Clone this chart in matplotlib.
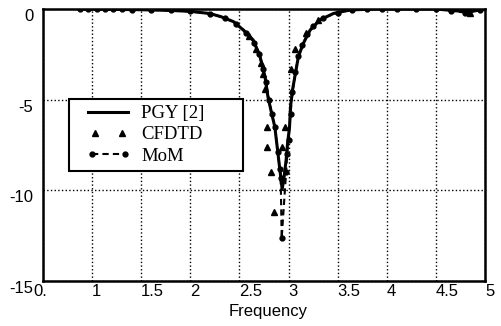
import matplotlib
matplotlib.use("Agg")
import matplotlib.pyplot as plt
from matplotlib.transforms import ScaledTranslation
from matplotlib.legend_handler import HandlerLine2D

# ---- data ----
pgy_x = [0.9, 1.2, 1.5, 1.8, 2.0, 2.2, 2.31, 2.44, 2.54, 2.64, 2.71, 2.76, 2.79, 2.82,
         2.86, 2.88, 2.90, 2.92, 2.935, 2.955, 2.975, 2.99, 3.01, 3.02, 3.04, 3.07,
         3.10, 3.15, 3.22, 3.32, 3.46, 3.63, 3.9, 4.2, 4.5, 4.7, 4.85, 5.0]
pgy_y = [0, -0.02, -0.04, -0.08, -0.13, -0.25, -0.42, -0.7, -1.16, -1.71, -2.63, -3.73,
         -4.84, -5.57, -6.5, -7.41, -8.33, -9.25, -9.95, -9.25, -8.33, -7.41, -6.5,
         -5.39, -4.47, -3.55, -2.63, -1.9, -1.16, -0.6, -0.24, -0.05, 0, 0, 0, -0.1,
         -0.15, 0]

cf_x = [2.6, 2.67, 2.72, 2.74, 2.76, 2.78, 2.78, 2.82, 2.85, 2.93, 2.96, 3.02, 3.07,
        3.18, 3.3, 4.85]
cf_y = [-1.5, -2.2, -3.0, -3.6, -4.4, -6.5, -7.6, -9.0, -11.2, -7.6, -6.5, -3.3, -2.2,
        -1.3, -0.6, -0.2]

mom_x = [0.88, 0.96, 1.05, 1.13, 1.21, 1.30, 1.41, 1.6, 1.8, 2.0, 2.2, 2.35, 2.47, 2.57,
         2.65, 2.7, 2.74, 2.77, 2.8, 2.83, 2.86, 2.89, 2.91, 2.92, 2.93, 2.975, 2.985,
         3.0, 3.02, 3.04, 3.07, 3.1, 3.14, 3.19, 3.25, 3.35, 3.5, 3.65, 3.8, 3.95,
         4.1, 4.3, 4.5, 4.65, 4.8, 4.95]
mom_y = [0, 0, 0, -0.01, -0.02, -0.02, -0.03, -0.05, -0.08, -0.13, -0.25, -0.5, -0.8,
         -1.3, -1.85, -2.5, -3.3, -4.0, -5.0, -5.8, -6.5, -7.87, -8.8, -9.3, -12.65,
         -9.0, -8.0, -7.2, -5.8, -4.6, -3.5, -2.6, -2.0, -1.4, -0.95, -0.5, -0.2,
         -0.05, 0, 0, 0, 0, 0, -0.1, -0.2, -0.05]

xticks = [0.5, 1, 1.5, 2, 2.5, 3, 3.5, 4, 4.5, 5]
xticklabels = ["0.", "1", "1.5", "2", "2.5", "3", "3.5", "4", "4.5", "5"]
yticks = [0, -5, -10, -15]
yticklabels = ["0", "-5", "-10", "-15"]

fig = plt.figure(figsize=(5.02, 3.26), dpi=100)
ax = fig.add_axes([43/502, 1-281/326, (485-43)/502, (281-9)/326])

l_pgy, = ax.plot(pgy_x, pgy_y, '-', color='black', lw=2.2, label='PGY [2]', zorder=3)
l_cf, = ax.plot(cf_x, cf_y, '^', color='black', ms=4.5, ls='none', label='CFDTD', zorder=4)
l_mom, = ax.plot(mom_x, mom_y, '--', color='black', lw=1.5, marker='o', ms=3.5,
                 dashes=(3, 2), label='MoM', zorder=3)

ax.set_xlim(0.5, 5)
ax.set_ylim(-15, 0)
ax.set_xticks(xticks)
ax.set_xticklabels(xticklabels, fontsize=12, family='Liberation Sans')
ax.set_yticks(yticks)
ax.set_yticklabels(yticklabels, fontsize=12, family='Liberation Sans')
ax.tick_params(length=0)
ax.tick_params(axis='x', pad=2)
ax.tick_params(axis='y', pad=7)
for lab in ax.get_xticklabels():
    lab.set_horizontalalignment('left')
first = ax.get_xticklabels()[0]
first.set_transform(first.get_transform() + ScaledTranslation(-10/100, 0, fig.dpi_scale_trans))
for lab in ax.get_yticklabels():
    lab.set_verticalalignment('top')

ax.grid(True, color='black', ls=':', lw=1.0)
for s in ax.spines.values():
    s.set_linewidth(1.8)
    s.set_color('black')

ax.set_xlabel('Frequency', fontsize=12, family='Liberation Sans', labelpad=0)
ax.xaxis.set_label_coords(0.51, -0.085)

hmap = {
    l_pgy: HandlerLine2D(xpad=0.72, marker_pad=0.0),
    l_cf: HandlerLine2D(xpad=0.72, marker_pad=0.35),
    l_mom: HandlerLine2D(xpad=0.72, marker_pad=0.2),
}
leg = ax.legend(handles=[l_pgy, l_cf, l_mom], handler_map=hmap,
                loc='upper left', bbox_to_anchor=(0.0588, 0.408, 0.394, 0.261),
                mode='expand', numpoints=2,
                prop={'family': 'Liberation Serif', 'size': 13.5}, fancybox=False,
                framealpha=1, edgecolor='black', borderaxespad=0, handlelength=2.85,
                labelspacing=0.22, borderpad=0.32, handletextpad=0.69)
leg.get_frame().set_linewidth(1.5)
leg.set_zorder(5)

fig.savefig('out.png', dpi=100)
